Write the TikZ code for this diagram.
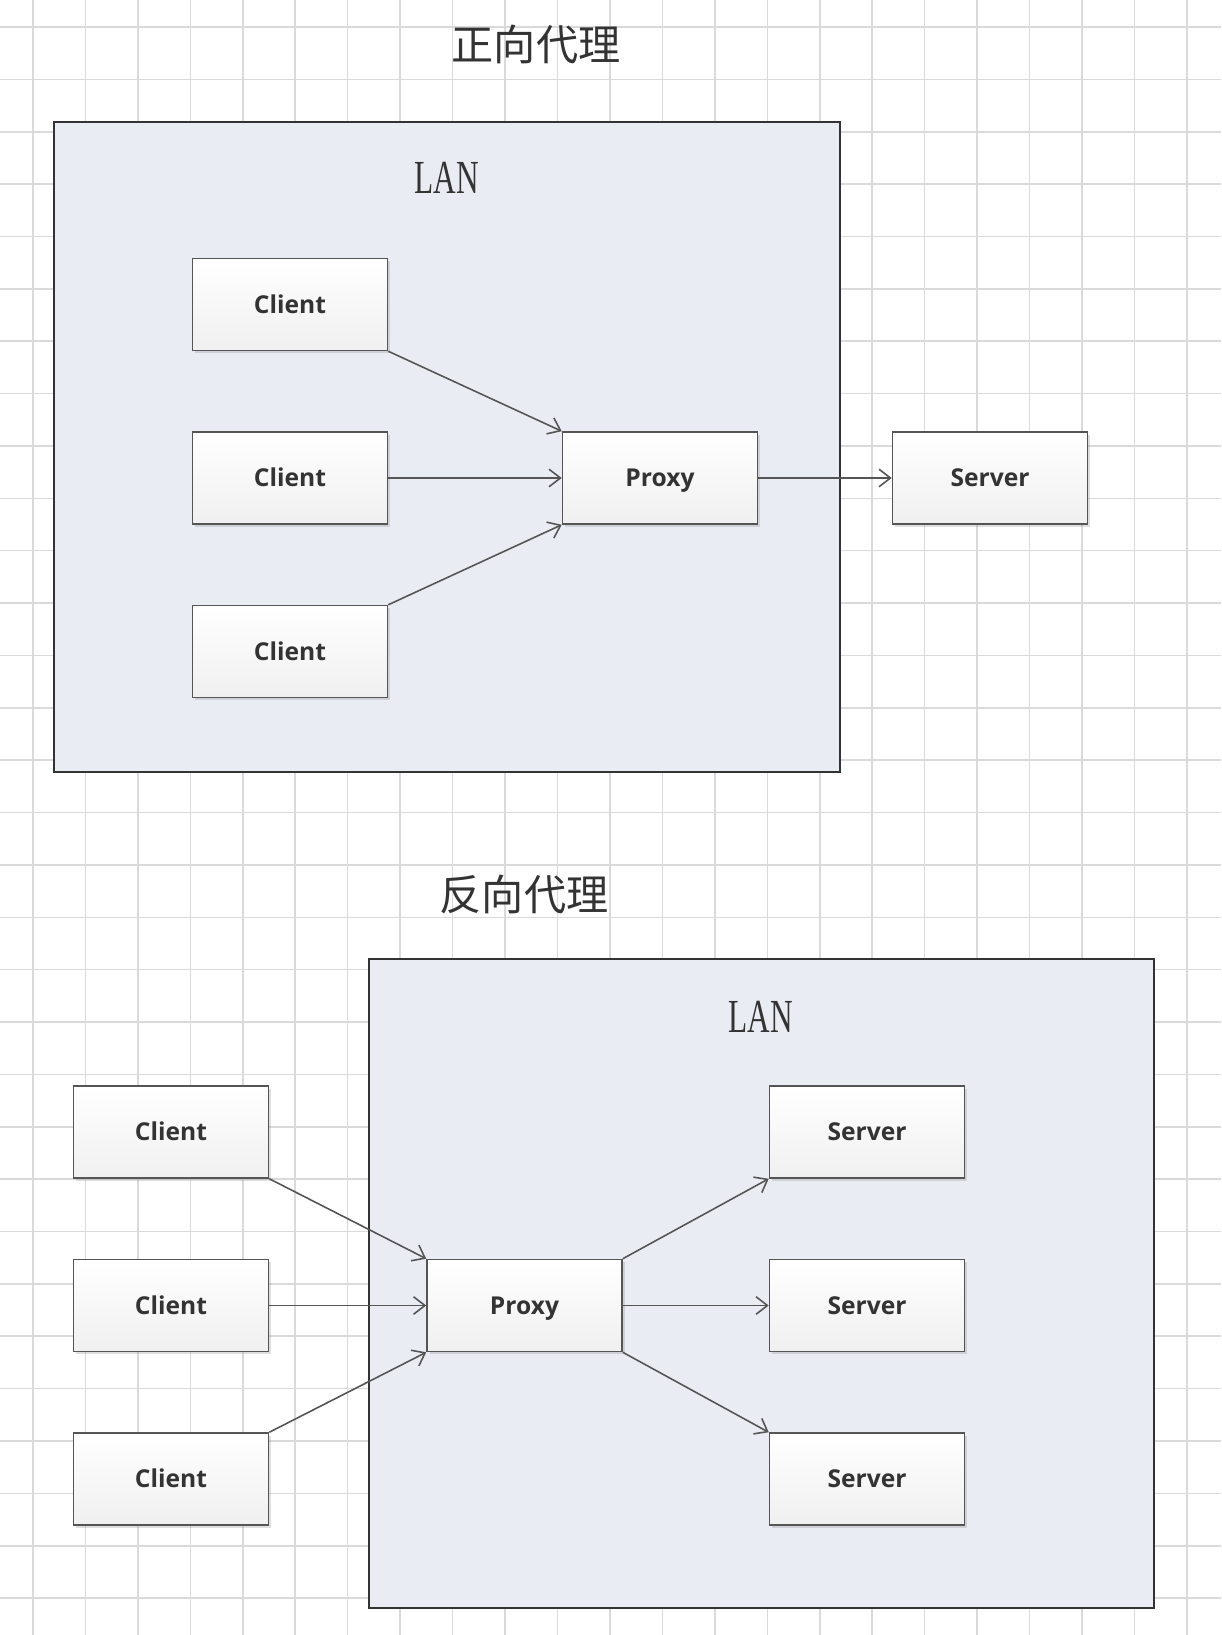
\documentclass[tikz,border=0pt]{standalone}
\usepackage{fontspec}
\setsansfont{Open Sans}
\newfontfamily\cjk{Noto Sans CJK SC}
\newfontfamily\lanfont{Liberation Serif}
\usetikzlibrary{positioning,arrows.meta,shadows}
\definecolor{lanfill}{RGB}{233,236,243}
\definecolor{gridgray}{RGB}{218,218,218}
\definecolor{edgegray}{RGB}{85,85,85}
\definecolor{textgray}{RGB}{51,51,51}
\tikzset{
  host/.style={draw=edgegray, line width=0.9pt, top color=white, bottom color=gray!12,
    minimum width=3.9cm, minimum height=1.84cm, inner sep=0pt,
    font=\sffamily\bfseries\fontsize{14}{16}\selectfont, text=textgray,
    text height=10pt, text depth=0pt,
    drop shadow={opacity=0.25, shadow xshift=1.5pt, shadow yshift=-1.5pt}},
  lan/.style={draw=black!80, line width=1.2pt, fill=lanfill},
  lanlabel/.style={font=\lanfont\fontsize{27}{30}\selectfont, text=textgray},
  title/.style={font=\cjk\fontsize{24}{28}\selectfont, text=textgray},
  link/.style={draw=edgegray, line width=0.9pt, -{Straight Barb[length=6.5pt,width=10pt]}}
}

\begin{document}
\begin{tikzpicture}[x=0.02cm, y=0.02cm, node distance=1.6cm]
\useasboundingbox (0,0) rectangle (1221,-1635);
\fill[white] (0,0) rectangle (1221,-1635);
\foreach \i in {0,...,22}
  \draw[gridgray, line width=0.9pt] ({33+52.45*\i},0) -- ({33+52.45*\i},-1635);
\foreach \j in {0,...,30}
  \draw[gridgray, line width=0.9pt] (0,{-27-52.37*\j}) -- (1221,{-27-52.37*\j});

\node[title] (forward) at (536,-44) {正向代理};
\draw[lan] (54,-122) rectangle (840,-772);
\node[lanlabel] (lan1) at (447,-178) {\scalebox{0.66}[1]{LAN}};
\node[host] (client2) at (290,-478) {Client};
\node[host, above=of client2] (client1) {Client};
\node[host, below=of client2] (client3) {Client};
\node[host] (proxy1) at (660,-478) {Proxy};
\node[host] (server1) at (990,-478) {Server};
\draw[link] (client1.south east) -- (proxy1.north west);
\draw[link] (client2) -- (proxy1);
\draw[link] (client3.north east) -- (proxy1.south west);
\draw[link] (proxy1) -- (server1);

\node[title] (reverse) at (524,-894) {反向代理};
\draw[lan] (369,-959) rectangle (1154,-1608);
\node[lanlabel] (lan2) at (761,-1017) {\scalebox{0.66}[1]{LAN}};
\node[host] (client5) at (171,-1305.5) {Client};
\node[host, above=of client5] (client4) {Client};
\node[host, below=of client5] (client6) {Client};
\node[host] (proxy2) at (524.5,-1305.5) {Proxy};
\node[host] (server3) at (867,-1305.5) {Server};
\node[host, above=of server3] (server2) {Server};
\node[host, below=of server3] (server4) {Server};
\draw[link] (client4.south east) -- (proxy2.north west);
\draw[link] (client5) -- (proxy2);
\draw[link] (client6.north east) -- (proxy2.south west);
\draw[link] (proxy2.north east) -- (server2.south west);
\draw[link] (proxy2) -- (server3);
\draw[link] (proxy2.south east) -- (server4.north west);
\end{tikzpicture}
\end{document}
